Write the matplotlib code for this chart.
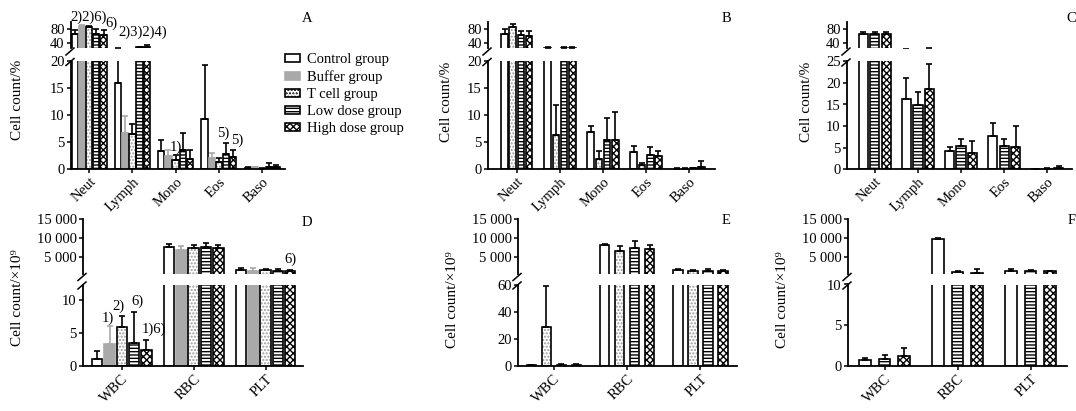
import numpy as np
import matplotlib
matplotlib.use('Agg')
import matplotlib.pyplot as plt
from matplotlib.patches import Patch
from matplotlib.lines import Line2D

plt.rcParams['font.family'] = ['Liberation Serif', 'DejaVu Serif']
plt.rcParams['hatch.linewidth'] = 1.0

W, H = 1076, 411

# categories
diff_cats = ['Neut', 'Lymph', 'Mono', 'Eos', 'Baso']
count_cats = ['WBC', 'RBC', 'PLT']
group_names = ['Control group', 'Buffer group', 'T cell group', 'Low dose group', 'High dose group']

# panel A (cell count %), mean and upper SD
a_control = [66.5, 16.0, 3.3, 9.3, 0.2]
a_control_sd = [11.5, 9.8, 2.0, 10.0, 0.1]
a_buffer = [89.5, 6.6, 2.5, 2.0, 0.3]
a_buffer_sd = [2.0, 3.3, 1.1, 1.0, 0.1]
a_tcell = [86.5, 6.4, 1.6, 1.35, 0.05]
a_tcell_sd = [3.0, 2.0, 1.05, 0.65, 0.05]
a_low = [66.5, 27.0, 3.45, 2.8, 0.3]
a_low_sd = [14.5, 2.5, 3.25, 2.0, 0.8]
a_high = [64.5, 29.0, 1.85, 2.2, 0.4]
a_high_sd = [13.5, 6.5, 1.6, 1.25, 0.3]

# panel B
b_control = [66.5, 26.0, 6.8, 3.1, 0.05]
b_control_sd = [14.5, 3.5, 1.1, 1.1, 0.05]
b_tcell = [87.5, 6.3, 1.8, 0.68, 0.05]
b_tcell_sd = [8.0, 5.6, 1.55, 0.52, 0.05]
b_low = [63.5, 25.5, 5.3, 2.6, 0.1]
b_low_sd = [12.5, 2.0, 4.1, 1.4, 0.05]
b_high = [61.5, 26.5, 5.3, 2.35, 0.4]
b_high_sd = [13.5, 3.0, 5.2, 1.05, 1.1]

# panel C
c_control = [66.0, 16.3, 4.3, 7.7, 0.05]
c_control_sd = [5.0, 4.8, 0.75, 2.9, 0.05]
c_low = [66.0, 14.9, 5.4, 5.4, 0.1]
c_low_sd = [5.0, 2.9, 1.6, 1.5, 0.05]
c_high = [65.0, 18.5, 3.8, 5.05, 0.3]
c_high_sd = [7.0, 5.9, 2.7, 4.95, 0.3]

# panel D (cell count x10^9)
d_control = [1.0, 7630, 1670]
d_control_sd = [1.2, 790, 430]
d_buffer = [3.4, 6930, 1400]
d_buffer_sd = [2.7, 1140, 700]
d_tcell = [5.85, 7540, 1580]
d_tcell_sd = [1.75, 620, 260]
d_low = [3.5, 7720, 1490]
d_low_sd = [4.7, 1050, 350]
d_high = [2.5, 7370, 1490]
d_high_sd = [1.5, 880, 260]

# panel E
e_control = [0.7, 8270, 1640]
e_control_sd = [0.3, 270, 260]
e_tcell = [28.9, 6770, 1550]
e_tcell_sd = [29.9, 1150, 180]
e_low = [0.8, 7480, 1460]
e_low_sd = [0.8, 1680, 530]
e_high = [1.0, 7210, 1500]
e_high_sd = [0.6, 1060, 250]

# panel F
f_control = [0.74, 9820, 1430]
f_control_sd = [0.21, 270, 440]
f_low = [0.86, 1160, 1430]
f_low_sd = [0.5, 270, 360]
f_high = [1.28, 900, 1340]
f_high_sd = [0.98, 1150, 180]

style = {
    'Control group': dict(face='white', hatch=None, hcol='black', edge='black', ecol='black'),
    'Buffer group': dict(face='#a9a9a9', hatch=None, hcol='#a9a9a9', edge='#a9a9a9', ecol='#a9a9a9'),
    'T cell group': dict(face='white', hatch='.....', hcol='#9a9a9a', edge='black', ecol='black'),
    'Low dose group': dict(face='white', hatch='-----', hcol='black', edge='black', ecol='black'),
    'High dose group': dict(face='white', hatch='xxxxx', hcol='black', edge='black', ecol='black'),
}

FS = 10.5

fig = plt.figure(figsize=(W / 100, H / 100), dpi=100)


def px_axes(x0, x1, ytop, ybot):
    return fig.add_axes([x0 / W, 1 - ybot / H, (x1 - x0) / W, (ybot - ytop) / H])


def draw_bars(ax, cats, names, means, sds, step, width):
    n = len(names)
    x = np.arange(len(cats))
    out = {}
    for i, name in enumerate(names):
        st = style[name]
        pos = x + (i - (n - 1) / 2) * step
        ax.bar(pos, means[i], width, color=st['face'], edgecolor=st['hcol'],
               hatch=st['hatch'], linewidth=0, zorder=2)
        ax.bar(pos, means[i], width, fill=False, edgecolor=st['edge'],
               linewidth=1.2, zorder=2.5)
        ax.errorbar(pos, means[i], yerr=[np.zeros(len(cats)), sds[i]], fmt='none',
                    ecolor=st['ecol'], elinewidth=1.2, capsize=2, capthick=1.2, zorder=3)
        out[i] = (pos, np.array(means[i]) + np.array(sds[i]))
    return out


def panel(p):
    x0, x1 = p['x']
    top = px_axes(x0, x1, p['top_y'][0], p['top_y'][1])
    bot = px_axes(x0, x1, p['bot_y'][0], p['bot_y'][1])
    tops = draw_bars(top, p['cats'], p['names'], p['means'], p['sds'], p['step'], p['width'])
    draw_bars(bot, p['cats'], p['names'], p['means'], p['sds'], p['step'], p['width'])
    for ax in (top, bot):
        ax.set_xlim(p['xlim'])
        for s in ('top', 'right'):
            ax.spines[s].set_visible(False)
        for s in ('left', 'bottom'):
            ax.spines[s].set_linewidth(1.3)
        ax.tick_params(direction='out', length=3, width=1.1, labelsize=FS, pad=1.5)
    top.spines['bottom'].set_visible(False)
    top.set_xticks([])
    top.set_ylim(p['top_lim'])
    top.set_yticks(p['top_ticks'])
    top.set_yticklabels(p['top_labels'])
    bot.set_ylim(p['bot_lim'])
    bot.set_yticks(p['bot_ticks'])
    bot.set_xticks(np.arange(len(p['cats'])))
    bot.set_xticklabels(p['cats'], rotation=45, ha='right', rotation_mode='anchor')
    # break marks
    for yc in (p['top_y'][1] + 3, p['bot_y'][0] + 1):
        fig.add_artist(Line2D([(x0 - 5) / W, (x0 + 3) / W],
                              [1 - (yc + 3.5) / H, 1 - (yc - 3.5) / H],
                              color='black', lw=1.1))
    fig.text(p['ylab'][0] / W, 1 - p['ylab'][1] / H, p['ylabel'], rotation=90,
             ha='center', va='center', fontsize=FS + 0.5)
    fig.text(p['letter'][0] / W, 1 - p['letter'][1] / H, p['tag'],
             ha='center', va='center', fontsize=FS)
    # significance marks: (axis, category, series, text, dx px, dy px upward)
    for (which, ci, si, txt, dx, dy) in p.get('notes', []):
        ax = top if which == 'top' else bot
        pos, tp = tops[si]
        ax.annotate(txt, xy=(pos[ci], tp[ci]), xytext=(dx * 0.72, dy * 0.72),
                    textcoords='offset points', ha='center', va='center',
                    fontsize=FS, annotation_clip=False)


pct_label = 'Cell count/%'
cnt_label = 'Cell count/×10⁹'
big_ticks = [5000, 10000, 15000]
big_labels = ['5 000', '10 000', '15 000']

panels = [
    dict(tag='A', x=(71, 285), top_y=(22.5, 48.5), bot_y=(61, 169), xlim=(-0.42, 4.53),
         top_lim=(24, 100), top_ticks=[40, 80], top_labels=['40', '80'],
         bot_lim=(0, 20), bot_ticks=[0, 5, 10, 15, 20], cats=diff_cats, names=group_names,
         means=[a_control, a_buffer, a_tcell, a_low, a_high],
         sds=[a_control_sd, a_buffer_sd, a_tcell_sd, a_low_sd, a_high_sd],
         step=0.166, width=0.145, ylabel=pct_label, ylab=(18, 100), letter=(307, 18),
         notes=[('top', 0, 2, '2)2)6)', -1, 9), ('top', 0, 4, '6)', 8, 7),
                ('top', 1, 4, '2)3)2)4)', -4, 12),
                ('bot', 2, 2, '1)', 0, 7), ('bot', 3, 3, '5)', -3, 10),
                ('bot', 3, 4, '5)', 4, 10)]),
    dict(tag='B', x=(488, 715), top_y=(22.5, 48.5), bot_y=(61, 169), xlim=(-0.67, 4.6),
         top_lim=(24, 100), top_ticks=[40, 80], top_labels=['40', '80'],
         bot_lim=(0, 20), bot_ticks=[0, 5, 10, 15, 20], cats=diff_cats,
         names=['Control group', 'T cell group', 'Low dose group', 'High dose group'],
         means=[b_control, b_tcell, b_low, b_high],
         sds=[b_control_sd, b_tcell_sd, b_low_sd, b_high_sd],
         step=0.19, width=0.155, ylabel=pct_label, ylab=(446, 102), letter=(726, 18)),
    dict(tag='C', x=(847, 1072), top_y=(22.5, 48.5), bot_y=(61.5, 169), xlim=(-0.65, 4.58),
         top_lim=(24, 100), top_ticks=[40, 80], top_labels=['40', '80'],
         bot_lim=(0, 25), bot_ticks=[0, 5, 10, 15, 20, 25], cats=diff_cats,
         names=['Control group', 'Low dose group', 'High dose group'],
         means=[c_control, c_low, c_high], sds=[c_control_sd, c_low_sd, c_high_sd],
         step=0.267, width=0.21, ylabel=pct_label, ylab=(806, 102), letter=(1071, 18)),
    dict(tag='D', x=(83, 303), top_y=(219, 274), bot_y=(284.5, 366), xlim=(-0.54, 2.52),
         top_lim=(640, 15000), top_ticks=big_ticks, top_labels=big_labels,
         bot_lim=(0, 12.35), bot_ticks=[0, 5, 10], cats=count_cats, names=group_names,
         means=[d_control, d_buffer, d_tcell, d_low, d_high],
         sds=[d_control_sd, d_buffer_sd, d_tcell_sd, d_low_sd, d_high_sd],
         step=0.171, width=0.146, ylabel=cnt_label, ylab=(18, 298), letter=(307, 222),
         notes=[('bot', 0, 1, '1)', -2, 7), ('bot', 0, 2, '2)', -3, 10),
                ('bot', 0, 3, '6)', 3, 11), ('bot', 0, 4, '1)6)', 7, 10),
                ('top', 2, 4, '6)', 0, 10)]),
    dict(tag='E', x=(518, 737), top_y=(219, 274), bot_y=(284.5, 366), xlim=(-0.49, 2.5),
         top_lim=(640, 15000), top_ticks=big_ticks, top_labels=big_labels,
         bot_lim=(0, 60), bot_ticks=[0, 20, 40, 60], cats=count_cats,
         names=['Control group', 'T cell group', 'Low dose group', 'High dose group'],
         means=[e_control, e_tcell, e_low, e_high],
         sds=[e_control_sd, e_tcell_sd, e_low_sd, e_high_sd],
         step=0.205, width=0.13, ylabel=cnt_label, ylab=(452, 300), letter=(726, 220)),
    dict(tag='F', x=(848, 1067), top_y=(219, 274), bot_y=(284.5, 366), xlim=(-0.5, 2.5),
         top_lim=(640, 15000), top_ticks=big_ticks, top_labels=big_labels,
         bot_lim=(0, 10), bot_ticks=[0, 5, 10], cats=count_cats,
         names=['Control group', 'Low dose group', 'High dose group'],
         means=[f_control, f_low, f_high], sds=[f_control_sd, f_low_sd, f_high_sd],
         step=0.267, width=0.164, ylabel=cnt_label, ylab=(783, 300), letter=(1072, 220)),
]

for p in panels:
    panel(p)

handles = []
for name in group_names:
    st = style[name]
    handles.append(Patch(facecolor=st['face'], edgecolor=st['edge'], hatch=st['hatch'],
                         linewidth=1.2, label=name))
fig.legend(handles=handles, loc='upper left', bbox_to_anchor=(285 / W, 1 - 53 / H),
           frameon=False, fontsize=FS, handlelength=1.0, handleheight=0.45,
           handletextpad=0.5, labelspacing=0.28, borderpad=0, borderaxespad=0)

fig.savefig('out.png', dpi=100)
